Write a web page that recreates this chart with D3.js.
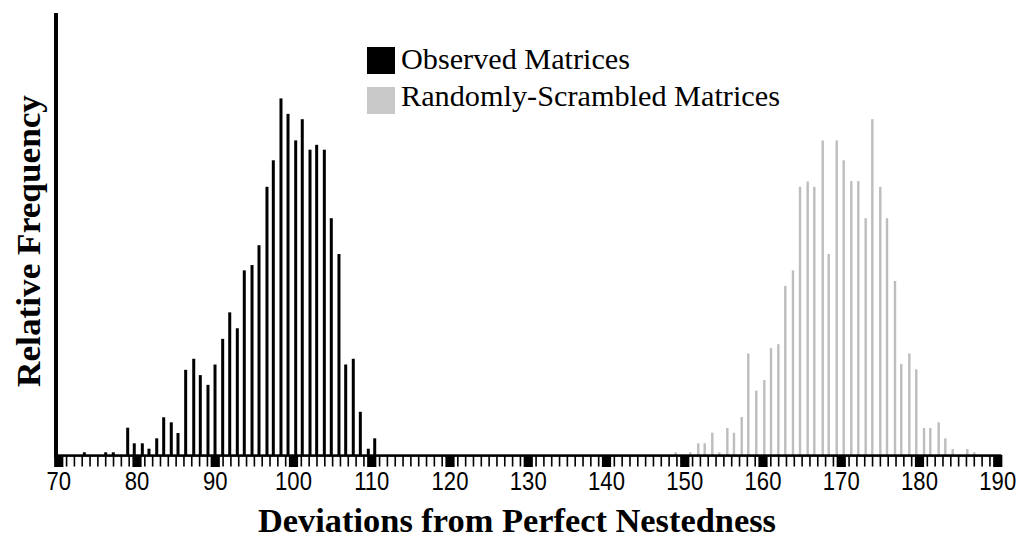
<!DOCTYPE html>
<html>
<head>
<meta charset="utf-8">
<script src="https://cdn.jsdelivr.net/npm/d3@7/dist/d3.min.js"></script>
<style>
  html, body { margin: 0; padding: 0; background: #fff; }
  svg { display: block; }
</style>
</head>
<body>
<svg id="chart" width="1021" height="539"></svg>
<script>
// ---- Data ----
const tickLabels = [70, 80, 90, 100, 110, 120, 130, 140, 150, 160, 170, 180, 190];

// Observed Matrices: bar positions (deviations) and relative frequency (arbitrary units)
const observedX = [73.27, 76.00, 76.97, 78.81, 79.65, 80.68, 81.53, 82.52, 83.41, 84.38,
  85.24, 86.22, 87.25, 88.09, 89.07, 89.97, 90.95, 91.85, 92.82, 93.71,
  94.70, 95.59, 96.61, 97.42, 98.40, 99.30, 100.28, 101.12, 102.11, 102.96,
  103.94, 104.83, 105.81, 106.67, 107.64, 108.54, 109.56, 110.38];
const observedY = [0.84, 0.84, 0.84, 6.4, 2.87, 2.87, 1.65, 4.0, 8.76, 7.62,
  5.2, 19.5, 22.0, 18.3, 16.1, 20.7, 26.5, 32.5, 28.9, 42.0,
  43.2, 47.7, 60.9, 66.9, 80.9, 77.4, 71.4, 76.2, 69.3, 70.4,
  69.3, 53.8, 45.7, 20.7, 22.0, 10.0, 1.65, 4.0];

// Randomly-Scrambled Matrices
const scrambledX = [148.84, 150.71, 151.73, 152.55, 153.52, 154.42, 155.44, 156.29, 157.28, 158.12,
  159.14, 160.17, 161.02, 161.96, 162.85, 163.83, 164.73, 165.71, 166.56, 167.63,
  168.40, 169.42, 170.31, 171.28, 172.18, 173.12, 173.97, 174.99, 175.85, 176.87,
  177.67, 178.70, 179.59, 180.58, 181.38, 182.45, 183.30, 184.24, 186.11, 187.00];
const scrambledY = [0.84, 0.84, 2.87, 2.87, 5.27, 0.84, 6.33, 5.27, 8.82, 23.2,
  14.8, 17.2, 24.4, 25.3, 38.5, 42.0, 60.9, 62.1, 60.9, 71.4,
  45.7, 71.4, 66.9, 62.2, 62.2, 53.8, 76.2, 60.9, 53.8, 39.6,
  20.8, 23.2, 19.6, 6.33, 6.33, 7.62, 4.0, 1.58, 1.58, 0.84];

const seriesNames = ["Observed Matrices", "Randomly-Scrambled Matrices"];
const seriesColors = ["#000000", "#bdbdbd"];
const legendColors = ["#000000", "#c8c8c8"];

// ---- Layout ----
const svg = d3.select("#chart");
const baseY = 456;
const x = d3.scaleLinear().domain([70, 190]).range([58.75, 997.75]);
const y = d3.scaleLinear().domain([0, 100]).range([baseY, 14]);

// Bars
const obs = observedX.map((v, i) => ({ x: v, y: observedY[i] }));
const scr = scrambledX.map((v, i) => ({ x: v, y: scrambledY[i] }));

svg.append("g").selectAll("rect").data(scr).join("rect")
  .attr("x", d => x(d.x) - 1.2).attr("width", 2.4)
  .attr("y", d => y(d.y)).attr("height", d => baseY - y(d.y))
  .attr("fill", seriesColors[1]);

svg.append("g").selectAll("rect").data(obs).join("rect")
  .attr("x", d => x(d.x) - 1.5).attr("width", 3)
  .attr("y", d => y(d.y)).attr("height", d => baseY - y(d.y))
  .attr("fill", seriesColors[0]);

// X axis line
svg.append("rect").attr("x", 54).attr("y", 454.3).attr("width", 947.5).attr("height", 2.6).attr("fill", "#000");

// Minor ticks (every unit)
const minor = x.ticks(120).filter(v => v % 10 !== 0);
svg.append("g").selectAll("rect").data(minor).join("rect")
  .attr("x", d => x(d) - 0.8).attr("width", 1.6)
  .attr("y", 456).attr("height", 10.5)
  .attr("fill", "#000");

// Major tick blocks
svg.append("g").selectAll("rect").data(tickLabels).join("rect")
  .attr("x", d => x(d) - 4.6).attr("width", 9.2)
  .attr("y", 455).attr("height", 12)
  .attr("fill", "#000");

// Tick labels
svg.append("g").selectAll("text").data(tickLabels).join("text")
  .attr("transform", d => `translate(${x(d)},490) scale(0.92,1.08)`)
  .attr("text-anchor", "middle")
  .attr("font-family", "Liberation Sans, Arial, sans-serif")
  .attr("font-size", 24)
  .attr("fill", "#000")
  .text(d => d);

// Y axis line
svg.append("rect").attr("x", 54).attr("y", 13).attr("width", 4).attr("height", 445).attr("fill", "#000");

// Axis titles
svg.append("text")
  .attr("x", 517).attr("y", 532)
  .attr("text-anchor", "middle")
  .attr("font-family", "Liberation Serif, Times New Roman, serif")
  .attr("font-weight", "bold")
  .attr("font-size", 33)
  .attr("textLength", 518).attr("lengthAdjust", "spacingAndGlyphs")
  .text("Deviations from Perfect Nestedness");

svg.append("text")
  .attr("transform", "translate(40,241) rotate(-90)")
  .attr("text-anchor", "middle")
  .attr("font-family", "Liberation Serif, Times New Roman, serif")
  .attr("font-weight", "bold")
  .attr("font-size", 34)
  .attr("textLength", 292).attr("lengthAdjust", "spacingAndGlyphs")
  .text("Relative Frequency");

// Legend
const legendWidths = [229, 379];
const leg = svg.append("g");
seriesNames.forEach((name, i) => {
  leg.append("rect").attr("x", 367).attr("y", 47 + i * 40).attr("width", 28).attr("height", 27)
    .attr("fill", legendColors[i]);
  leg.append("text").attr("x", 401).attr("y", 69 + i * 37)
    .attr("font-family", "Liberation Serif, Times New Roman, serif")
    .attr("font-size", 29)
    .attr("fill", "#000")
    .attr("textLength", legendWidths[i]).attr("lengthAdjust", "spacingAndGlyphs")
    .text(name);
});
</script>
</body>
</html>
